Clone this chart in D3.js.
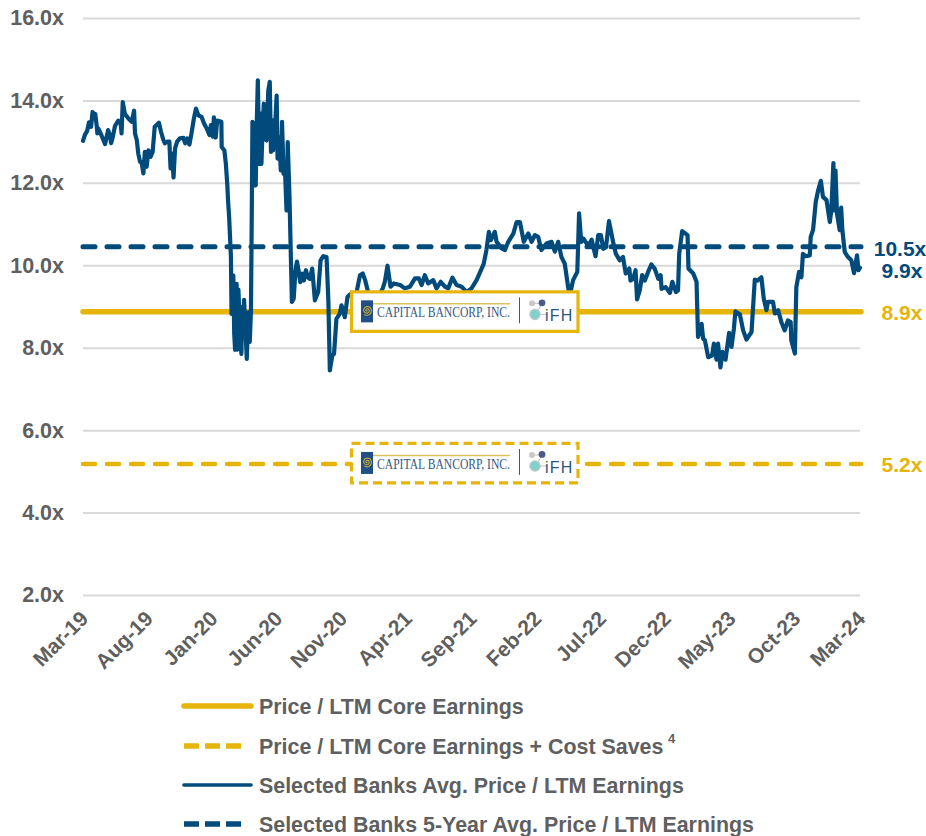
<!DOCTYPE html>
<html>
<head>
<meta charset="utf-8">
<script src="https://cdnjs.cloudflare.com/ajax/libs/d3/7.8.5/d3.min.js"></script>
<style>
html,body{margin:0;padding:0;background:#fff;}
svg{display:block;}
text{font-family:"Liberation Sans",Arial,sans-serif;font-weight:700;}
.logo-name{font-family:"Liberation Serif",serif;font-weight:400;}
.logo-ifh{font-weight:400;}
</style>
</head>
<body>
<svg id="c" width="926" height="836"></svg>
<script>
const xTickLabels = ["Mar-19","Aug-19","Jan-20","Jun-20","Nov-20","Apr-21","Sep-21","Feb-22","Jul-22","Dec-22","May-23","Oct-23","Mar-24"];
const yTicks = [2,4,6,8,10,12,14,16];
const coreEarnings = 8.87;
const coreCostSaves = 5.18;
const peerFiveYearAvg = 10.45;
const sideLabels = ["10.5x","9.9x","8.9x","5.2x"];
const legendLabels = ["Price / LTM Core Earnings","Price / LTM Core Earnings + Cost Saves","Selected Banks Avg. Price / LTM Earnings","Selected Banks 5-Year Avg. Price / LTM Earnings"];
const weeks = [0,0.6,1.4,2,2.7,3.2,3.7,4.1,4.6,4.8,5.1,5.9,6.6,7.4,8.4,9,9.4,10,10.7,11.8,12.6,12.9,13.3,14,15.2,16.3,17.1,17.4,18,18.5,19.1,19.6,20.2,20.7,21.3,21.9,22.6,23.3,24,24.6,25.4,26.1,26.9,27.4,28.2,28.9,29.3,29.8,30.3,30.8,31.5,32.4,33.6,34.2,34.9,35.6,36.3,37.1,37.8,38.6,39.7,40.5,41.4,42.3,42.8,43.4,43.8,44.4,44.9,46.3,46.4,47.3,47.8,48.3,48.5,48.9,49.5,
49.7,50.3,50.6,50.9,51.4,51.6,52,52.5,53,53.3,53.6,53.9,54.4,54.8,55.3,55.8,56.2,56.5,56.7,57.1,57.3,57.5,57.8,58.1,58.5,59,59.4,59.7,60.1,60.5,60.9,61.4,62,62.5,62.9,63.3,63.6,64.2,64.8,65.1,65.6,66.2,66.6,67.1,67.6,68.1,68.5,69.1,69.4,69.9,70.5,71.1,71.6,72.1,72.7,73.3,73.9,74.6,75.2,75.9,76.7,77.6,78.7,79.5,80.4,81.5,82.1,82.6,83.4,84,84.8,85.9,86.5,87.6,88.5,89.3,
91,91.8,92.7,93.6,94.4,95.1,96,98.3,100.3,101,101.9,102.9,104,106.1,107.7,109.4,111.1,112.4,113.3,114.4,115.5,117.2,118.3,119.7,121.1,122.2,123.6,125,126.7,128.4,130,131.7,133.4,134.1,135,135.8,136.5,137.8,138.4,140.1,141.2,142.3,144,145.1,146.2,147.5,149,150.1,151.2,152.3,153.4,155.1,156.8,157.9,159,160.1,161.2,162.4,162.9,164,165.4,166,166.7,167.4,168.5,169.6,
170.2,171.5,172.4,173.3,174.1,175,176,176.6,177.4,178.3,179.6,180.7,181.6,182.8,183.2,184.1,184.9,185.4,186.3,187.1,188,189.1,190.2,191.3,192.5,193.3,193.6,195,196.4,197.2,198.4,199.1,199.5,200.5,202.3,202.6,204.2,205.3,205.8,207,207.5,208.1,209.2,210.5,211.1,212,212.5,213.3,214,215,216.2,217,217.8,218.3,219.8,220.9,222,223.7,224.8,225.7,227,227.8,228.7,229.2,230.9,231.5,232.6,233.7,234.8,235.9,236.8,237,238.2,238.7,239.6,240.4,240.9,241.8,243.2,243.5,244.3,245.2,246,246.9,247.6,248.8,249.9,250.4,251.1,251.5,251.8,252.3,253.2,253.7,254.1,254.9,256,257.1,258,259,259.5,260];
const peerMultiples = [13.02,13.16,13.26,13.47,13.36,13.72,13.6,13.67,13.38,13.2,13.32,13.2,13.08,12.94,13.28,13.16,12.96,13.12,13.38,13.51,13.44,13.2,13.96,13.68,13.56,13.48,13.75,13.2,13.04,12.71,12.51,12.51,12.23,12.75,12.39,12.79,12.63,12.75,13.36,13.4,13.46,13.24,13.04,12.96,13,13,12.35,12.71,12.13,12.83,13,13.08,13.09,12.96,13.08,12.93,13.2,13.56,13.8,13.64,13.6,13.44,13.32,13.16,13.4,13.12,13.59,13.1,13.51,13.48,12.87,12.79,12.47,11.94,11.62,11.17,10.2,
8.82,9.75,8.34,7.95,9.55,7.95,9.41,8.5,7.85,8.99,8.26,9.16,8.42,7.73,8.86,8.14,8.9,11.49,13.48,11.94,13.45,11.94,11.94,13.31,14.49,12.46,13.68,12.46,13.31,13.92,13.07,13.03,14.24,14.45,12.75,13.52,12.79,13.27,14.12,12.59,13.11,12.3,13.48,12.22,12.3,11.33,12.99,11.66,10.69,9.11,9.19,9.88,10.09,9.88,9.59,9.8,9.63,9.88,9.71,9.67,9.92,9.15,9.35,10.12,10.22,10.2,9.15,7.45,7.81,7.85,8.7,8.82,9.03,8.74,9.23,9.29,
9.15,9.44,9.76,9.8,9.64,9.44,9.15,9.15,9.44,9.6,9.99,9.48,9.56,9.52,9.44,9.48,9.68,9.68,9.52,9.76,9.56,9.64,9.44,9.6,9.48,9.44,9.7,9.52,9.48,9.35,9.44,9.64,9.92,10.04,10.37,10.81,10.61,10.81,10.57,10.41,10.37,10.57,10.77,11.05,11.05,10.57,10.77,10.57,10.73,10.69,10.37,10.53,10.57,10.33,10.57,10.2,10.04,9.44,9.27,9.64,9.84,11.26,10.57,10.65,10.53,10.53,
10.62,10.22,10.73,10.73,10.4,10.44,11.07,10.85,10.56,10.28,10.12,10.2,9.8,9.92,9.63,9.67,9.88,9.17,9.39,9.76,9.63,9.84,10.02,9.92,9.67,9.76,9.43,9.47,9.33,9.6,9.35,9.39,10.28,10.83,10.73,9.92,9.8,9.6,8.26,8.58,8.22,8.18,7.77,7.81,8.1,7.71,8.1,7.52,7.9,7.71,8.36,8.02,8.46,8.88,8.81,8.42,8.2,8.38,9.65,9.63,9.71,9.19,8.91,9.11,9.11,8.83,8.91,8.62,8.42,8.66,8.62,8.18,7.86,9.47,9.84,9.71,10.28,10.22,10.24,10.69,10.86,11.54,11.82,12.05,11.66,11.58,11.05,11.33,12.48,11.33,12.3,11.25,10.85,11.4,10.85,10.32,10.2,10.12,9.81,10.24,9.88,9.94];

const GOLD="#e6b40a", NAVY="#004a7c", GREY="#5f5f5f", GRID="#d9d9d9";
const svg=d3.select("#c");
const x=d3.scaleLinear().domain([0,260]).range([83,860]);
const y=d3.scaleLinear().domain([2,16]).range([595,18]);

// grid + y axis
const yAxis=d3.axisLeft(y).tickValues(yTicks).tickFormat(d=>d.toFixed(1)+"x").tickSize(-777).tickPadding(19);
const gy=svg.append("g").attr("transform","translate(83,0)").call(yAxis);
gy.select(".domain").remove();
gy.selectAll(".tick line").attr("stroke",GRID).attr("stroke-width",2);
gy.selectAll(".tick text").attr("fill",GREY).attr("font-size",21.5);

// x axis
const xTickVals=xTickLabels.map((_,i)=>i*260/12);
const xAxis=d3.axisBottom(x).tickValues(xTickVals).tickFormat((d,i)=>xTickLabels[i]).tickSize(0);
const gx=svg.append("g").attr("transform","translate(0,595)").call(xAxis);
gx.select(".domain").remove();
gx.selectAll(".tick text").attr("fill",GREY).attr("font-size",21)
  .attr("text-anchor","end").attr("dy",null).attr("y",0)
  .attr("transform","translate(6,25) rotate(-45)");

// reference lines
function hline(v,color,w,dash){
  const l=svg.append("line").attr("x1",x(0)).attr("x2",x(260)+1).attr("y1",y(v)).attr("y2",y(v))
   .attr("stroke",color).attr("stroke-width",w).attr("stroke-linecap","round");
  if(dash) l.attr("stroke-dasharray",dash);
}
hline(coreCostSaves,GOLD,4.5,"12 12");
hline(coreEarnings,GOLD,5.5);

// peer series
const line=d3.line().x((d,i)=>x(weeks[i])).y(d=>y(d));
svg.append("path").datum(peerMultiples).attr("d",line).attr("fill","none")
  .attr("stroke",NAVY).attr("stroke-width",4.2).attr("stroke-linejoin","round").attr("stroke-linecap","round");
hline(peerFiveYearAvg,NAVY,5,"12 12");

// company logo boxes
function logo(cy,dash){
  const g=svg.append("g").attr("transform",`translate(0,${cy})`);
  const r=g.append("rect").attr("x",351.5).attr("y",-19.5).attr("width",226.5).attr("height",39.5)
    .attr("fill","#fff").attr("stroke",GOLD).attr("stroke-width",3.2);
  if(dash) r.attr("stroke-dasharray",dash);
  g.append("rect").attr("x",361).attr("y",-11).attr("width",12).attr("height",22).attr("fill","#1f4f86");
  const sp=[];
  for(let t=0;t<=15;t+=0.3){const rad=0.35*t;sp.push([367+rad*Math.cos(t),-1+rad*Math.sin(t)]);}
  g.append("path").attr("d",d3.line()(sp)).attr("fill","none").attr("stroke","#c9a92e").attr("stroke-width",1.1);
  g.append("line").attr("x1",373).attr("x2",510).attr("y1",-7.5).attr("y2",-7.5).attr("stroke","#dcc35f").attr("stroke-width",1.5);
  g.append("text").attr("class","logo-name").attr("x",377).attr("y",6).attr("font-size",14.5)
    .attr("textLength",133).attr("lengthAdjust","spacingAndGlyphs").attr("fill","#34597f").text("CAPITAL BANCORP, INC.");
  g.append("line").attr("x1",519.5).attr("x2",519.5).attr("y1",-14).attr("y2",12).attr("stroke","#555").attr("stroke-width",1);
  g.append("line").attr("x1",532).attr("x2",542).attr("y1",-8).attr("y2",-8).attr("stroke","#ccc").attr("stroke-width",1.2);
  g.append("line").attr("x1",542).attr("x2",537).attr("y1",-8).attr("y2",1).attr("stroke","#ccc").attr("stroke-width",1.2);
  g.append("line").attr("x1",535).attr("x2",548).attr("y1",3).attr("y2",3).attr("stroke","#ccc").attr("stroke-width",1.2);
  g.append("circle").attr("cx",532).attr("cy",-8).attr("r",3).attr("fill","#c9c9c9");
  g.append("circle").attr("cx",542).attr("cy",-8.5).attr("r",3.4).attr("fill","#4a5a8c");
  g.append("circle").attr("cx",535).attr("cy",3).attr("r",5.2).attr("fill","#7fd1cd").attr("stroke","#c9c9c9").attr("stroke-width",1.2);
  g.append("text").attr("class","logo-ifh").attr("x",545).attr("y",10).attr("font-size",16).attr("letter-spacing",1.2).attr("fill","#2f5680").text("iFH");
}
logo(y(coreEarnings)-.5,null);
logo(y(coreCostSaves)-1,"9 5");

// right-hand labels
const side=[{t:sideLabels[0],x:900,yy:y(peerFiveYearAvg)+9,c:NAVY},
            {t:sideLabels[1],x:902,yy:y(peerFiveYearAvg)+31,c:NAVY},
            {t:sideLabels[2],x:902,yy:y(coreEarnings)+8,c:GOLD},
            {t:sideLabels[3],x:902,yy:y(coreCostSaves)+8,c:GOLD}];
svg.selectAll("text.side").data(side).join("text").attr("class","side")
  .attr("x",d=>d.x).attr("y",d=>d.yy).attr("text-anchor","middle").attr("font-size",21).attr("fill",d=>d.c).text(d=>d.t);

// legend
const legendY=[706,746,785,824];
const legendStyle=[{c:GOLD,w:5.5},{c:GOLD,w:5.5,d:"15 6"},{c:NAVY,w:3.6},{c:NAVY,w:5.5,d:"15 6"}];
legendLabels.forEach((t,i)=>{
  const s=legendStyle[i];
  const l=svg.append("line").attr("x1",184).attr("x2",s.d?243:241+10).attr("y1",legendY[i]).attr("y2",legendY[i])
    .attr("stroke",s.c).attr("stroke-width",s.w);
  if(s.d) l.attr("stroke-linecap","butt").attr("stroke-dasharray",s.d);
  else l.attr("stroke-linecap","round");
  svg.append("text").attr("x",259).attr("y",legendY[i]+7.5).attr("font-size",21.4).attr("fill",GREY).text(t);
  if(i===1){
    svg.append("text").attr("x",668).attr("y",legendY[i]-3).attr("font-size",13).attr("fill",GREY).text("4");
  }
});
</script>
</body>
</html>
